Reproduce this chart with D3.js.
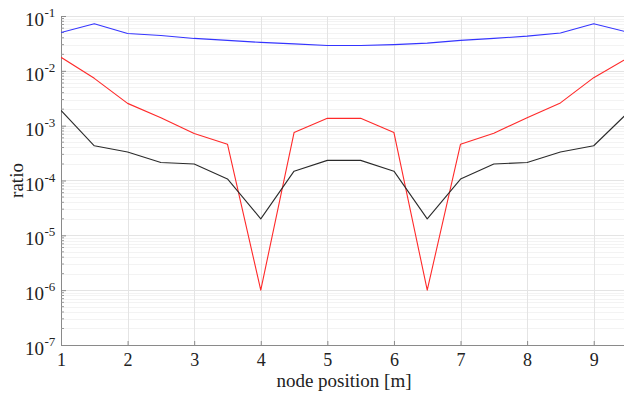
<!DOCTYPE html>
<html>
<head>
<meta charset="utf-8">
<script src="https://cdn.jsdelivr.net/npm/d3@7"></script>
<style>
  body { margin: 0; background: #fff; }
</style>
</head>
<body>
<div class="chart"></div>
<script>
// node positions along the beam
const positions = [1, 1.5, 2, 2.5, 3, 3.5, 4, 4.5, 5, 5.5, 6, 6.5, 7, 7.5, 8, 8.5, 9, 9.5]

const blueRatio = [0.050, 0.072, 0.048, 0.044, 0.039, 0.036, 0.033, 0.031, 0.029,
                   0.029, 0.030, 0.032, 0.036, 0.039, 0.043, 0.049, 0.072, 0.051]
const redRatio = [0.0177, 0.0073, 0.00255, 0.0014, 0.00072, 0.00046, 1e-6, 0.00075, 0.00136,
                  0.00136, 0.00075, 1e-6, 0.00046, 0.00073, 0.0014, 0.0026, 0.0075, 0.0169]
const blackRatio = [0.0019, 0.00043, 0.00033, 0.000213, 0.0002, 0.000107, 2.0e-5, 0.000148, 0.000233,
                    0.000233, 0.000148, 2.0e-5, 0.000106, 0.0002, 0.000213, 0.00033, 0.00043, 0.00167]

const xTicks = [1, 2, 3, 4, 5, 6, 7, 8, 9]
const yTickExp = [-7, -6, -5, -4, -3, -2, -1]

const series = [
    { name: 'blue', values: blueRatio, color: '#3535ff' },
    { name: 'red', values: redRatio, color: '#ff2a2a' },
    { name: 'black', values: blackRatio, color: '#2b2b2b' }
]

const width = 624
const height = 395
const margin = { left: 61, right: -3, top: 16, bottom: 50 }
const serif = '"Liberation Serif"'

const x = d3.scaleLinear()
    .domain([1, 9.5])
    .range([margin.left, width - margin.right])
const y = d3.scaleLog()
    .domain([1e-7, 1e-1])
    .range([height - margin.bottom, margin.top])

const svg = d3.select('.chart')
    .append('svg')
    .attr('width', width)
    .attr('height', height)

svg.append('clipPath').attr('id', 'plot-clip')
    .append('rect')
    .attr('x', margin.left).attr('y', margin.top - 2)
    .attr('width', width - margin.left).attr('height', height - margin.bottom - margin.top + 2)

// minor grid (log)
const minorVals = []
for (let e = -7; e < -1; e++) {
    for (let m = 2; m < 10; m++) minorVals.push(m * Math.pow(10, e))
}
const grid = svg.append('g')
grid.selectAll('line.minor')
    .data(minorVals)
    .join('line')
    .attr('class', 'minor')
    .attr('x1', margin.left).attr('x2', width)
    .attr('y1', d => Math.round(y(d)) + 0.5).attr('y2', d => Math.round(y(d)) + 0.5)
    .attr('stroke', '#f3f3f3')
grid.selectAll('line.hmajor')
    .data(yTickExp.slice(1))
    .join('line')
    .attr('class', 'hmajor')
    .attr('x1', margin.left).attr('x2', width)
    .attr('y1', d => Math.round(y(Math.pow(10, d))) + 0.5).attr('y2', d => Math.round(y(Math.pow(10, d))) + 0.5)
    .attr('stroke', '#e4e4e4')
grid.selectAll('line.vmajor')
    .data(xTicks.slice(1))
    .join('line')
    .attr('class', 'vmajor')
    .attr('y1', margin.top).attr('y2', height - margin.bottom)
    .attr('x1', d => Math.round(x(d)) + 0.5).attr('x2', d => Math.round(x(d)) + 0.5)
    .attr('stroke', '#e4e4e4')

// axes
const xAxis = svg.append('g')
    .attr('transform', `translate(0,${height - margin.bottom})`)
    .call(d3.axisBottom(x).tickValues(xTicks).tickSizeInner(-4).tickSizeOuter(0).tickPadding(8))
xAxis.select('.domain').attr('stroke', '#8a8a8a')
xAxis.selectAll('.tick line').attr('stroke', '#8a8a8a')
xAxis.selectAll('.tick text')
    .attr('fill', '#222')
    .style('font-family', serif)
    .style('font-size', '18px')

const yAxis = svg.append('g')
    .attr('transform', `translate(${margin.left},0)`)
    .call(d3.axisLeft(y).tickValues(yTickExp.map(e => Math.pow(10, e))).tickSizeInner(-5).tickSizeOuter(0).tickFormat(''))
yAxis.select('.domain').attr('stroke', '#8a8a8a')
yAxis.selectAll('.tick line').attr('stroke', '#8a8a8a')
yAxis.selectAll('line.mtick')
    .data(minorVals)
    .join('line')
    .attr('class', 'mtick')
    .attr('x1', 0).attr('x2', 3)
    .attr('y1', d => y(d)).attr('y2', d => y(d))
    .attr('stroke', '#9a9a9a')

svg.append('g')
    .selectAll('text')
    .data(yTickExp)
    .join('text')
    .attr('x', 44)
    .attr('y', d => y(Math.pow(10, d)) + 10)
    .attr('text-anchor', 'end')
    .attr('fill', '#222')
    .style('font-family', serif)
    .style('font-size', '19px')
    .text('10')
svg.append('g')
    .selectAll('text')
    .data(yTickExp)
    .join('text')
    .attr('x', 44.5)
    .attr('y', d => y(Math.pow(10, d)) + 1)
    .attr('fill', '#222')
    .style('font-family', serif)
    .style('font-size', '13px')
    .text(d => '-' + Math.abs(d))

svg.append('text')
    .attr('x', (margin.left + width - margin.right) / 2)
    .attr('y', 387)
    .attr('text-anchor', 'middle')
    .attr('fill', '#222')
    .style('font-family', serif)
    .style('font-size', '19px')
    .text('node position [m]')

svg.append('text')
    .attr('transform', `translate(23,${(margin.top + height - margin.bottom) / 2}) rotate(-90)`)
    .attr('text-anchor', 'middle')
    .attr('fill', '#222')
    .style('font-family', serif)
    .style('font-size', '19px')
    .text('ratio')

// lines
const line = d3.line()
    .x((d, i) => x(positions[i]))
    .y(d => y(d))

svg.append('g')
    .attr('clip-path', 'url(#plot-clip)')
    .selectAll('path')
    .data(series)
    .join('path')
    .attr('fill', 'none')
    .attr('stroke', d => d.color)
    .attr('stroke-width', 1.1)
    .attr('stroke-linejoin', 'round')
    .attr('d', d => line(d.values))
</script>
</body>
</html>
